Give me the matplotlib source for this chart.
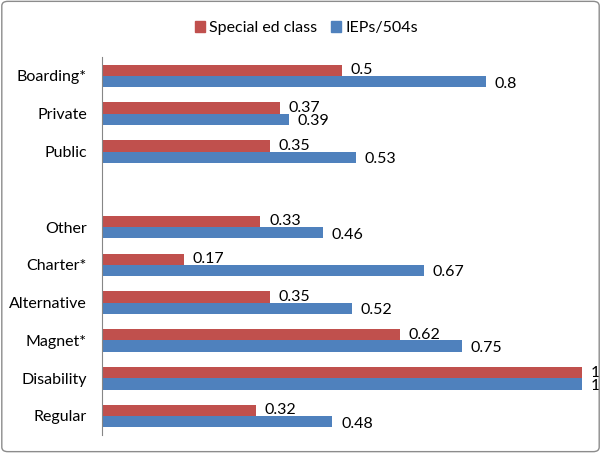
import numpy as np
import matplotlib
matplotlib.use("Agg")
import matplotlib.pyplot as plt
from matplotlib.patches import FancyBboxPatch, Patch

plt.rcParams['font.family'] = ['Lato', 'DejaVu Sans']

# top to bottom, "" is the empty gap row
categories = ["Boarding*", "Private", "Public", "", "Other", "Charter*",
              "Alternative", "Magnet*", "Disability", "Regular"]
special_ed = [0.5, 0.37, 0.35, None, 0.33, 0.17, 0.35, 0.62, 1, 0.32]
ieps = [0.8, 0.39, 0.53, None, 0.46, 0.67, 0.52, 0.75, 1, 0.48]

red = "#C0504D"
blue = "#4F81BD"
fs = 11.5

fig = plt.figure(figsize=(6.01, 4.53), dpi=100)
ax = fig.add_axes([0.170, 0.040, 0.798, 0.834])

n = len(categories)
y = np.arange(n)
h = 0.3

def fmt(v):
    return "%g" % v

for i, (s, b) in enumerate(zip(special_ed, ieps)):
    if s is None:
        continue
    ax.barh(y[i] - h / 2, s, height=h, color=red)
    ax.barh(y[i] + h / 2, b, height=h, color=blue)
    ax.text(s + 0.018, y[i] - h / 2, fmt(s), va="center", ha="left", fontsize=fs)
    ax.text(b + 0.018, y[i] + h / 2 + 0.05, fmt(b), va="center", ha="left", fontsize=fs)

ax.set_xlim(0, 1)
ax.set_ylim(n - 0.5, -0.5)
ax.set_yticks(y)
ax.set_yticklabels(categories, fontsize=fs)
ax.tick_params(axis="y", length=0, pad=11)
ax.set_xticks([])
for sp in ["top", "right", "bottom"]:
    ax.spines[sp].set_visible(False)
ax.spines["left"].set_color("#868686")
ax.spines["left"].set_linewidth(0.8)

# legend
handles = [Patch(color=red, label="Special ed class"), Patch(color=blue, label="IEPs/504s")]
fig.legend(handles=handles, loc="upper center", bbox_to_anchor=(0.51, 0.985), ncol=2,
           frameon=False, fontsize=fs, handlelength=0.6, handleheight=0.6,
           handletextpad=0.25, columnspacing=0.9)

# outer border
border = FancyBboxPatch((0.003, 0.003), 0.994, 0.994, boxstyle="round,pad=0,rounding_size=0.01",
                        transform=fig.transFigure, fill=False, edgecolor="#8c8c8c", linewidth=1)
fig.patches.append(border)

fig.savefig("out.png", dpi=100)
